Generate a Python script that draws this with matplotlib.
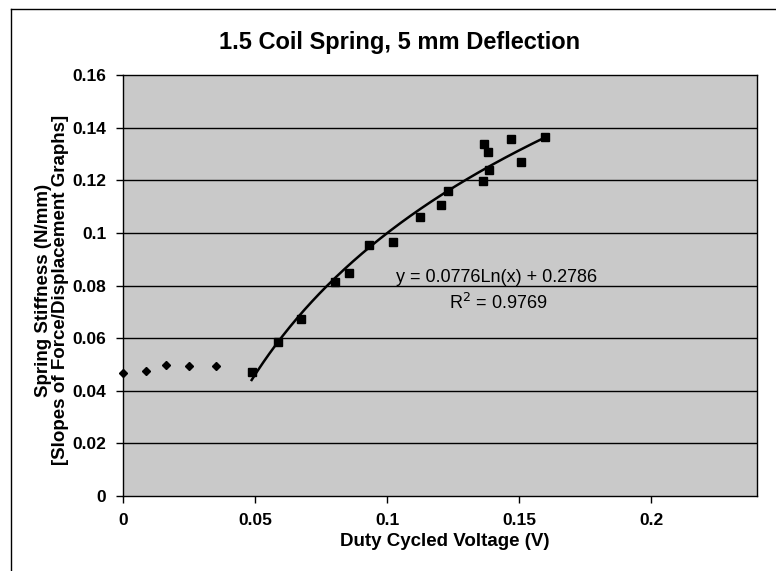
import matplotlib
matplotlib.use("Agg")
import matplotlib.pyplot as plt
import numpy as np
from matplotlib.lines import Line2D

plt.rcParams['font.family'] = ['Liberation Sans', 'DejaVu Sans']

# Data
diamond_x = [0.0, 0.0087, 0.0163, 0.0251, 0.0352]
diamond_y = [0.0467, 0.0475, 0.0498, 0.0494, 0.0494]

square_x = [0.0487, 0.0587, 0.0675, 0.0801, 0.0855, 0.0931, 0.1021, 0.1126,
            0.1205, 0.1229, 0.1362, 0.1384, 0.1365, 0.1380, 0.1467, 0.1507, 0.1597]
square_y = [0.0472, 0.0586, 0.0672, 0.0813, 0.0849, 0.0954, 0.0964, 0.1062,
            0.1105, 0.1159, 0.1197, 0.1239, 0.1338, 0.1309, 0.1357, 0.1268, 0.1366]

fit_a = 0.0776
fit_b = 0.2786
fit_label = "y = 0.0776Ln(x) + 0.2786"
r2_label = "R$^2$ = 0.9769"

x_ticks = [0, 0.05, 0.1, 0.15, 0.2]
x_tick_labels = ["0", "0.05", "0.1", "0.15", "0.2"]
y_ticks = [0, 0.02, 0.04, 0.06, 0.08, 0.1, 0.12, 0.14, 0.16]
y_tick_labels = ["0", "0.02", "0.04", "0.06", "0.08", "0.1", "0.12", "0.14", "0.16"]

W, H = 776, 571
fig = plt.figure(figsize=(W / 100, H / 100), dpi=100)
fig.patch.set_facecolor("white")

ax = fig.add_axes([123 / W, 1 - 496 / H, 634 / W, 421 / H])
ax.set_facecolor("#c9c9c9")
ax.set_xlim(0, 0.24)
ax.set_ylim(0, 0.16)

for yt in y_ticks[1:-1]:
    ax.axhline(yt, color="black", lw=1.0, zorder=1)

fx = np.linspace(min(square_x), max(square_x), 200)
ax.plot(fx, fit_a * np.log(fx) + fit_b, color="black", lw=1.8, zorder=3)

ax.plot(diamond_x, diamond_y, linestyle="none", marker="D", markersize=4.5,
        color="black", clip_on=False, zorder=4)
ax.plot(square_x, square_y, linestyle="none", marker="s", markersize=6,
        color="black", zorder=4)

ax.text(497 / W, 1 - 278 / H, fit_label, transform=fig.transFigure,
        ha="center", va="center", fontsize=13, zorder=5)
ax.text(498 / W, 1 - 303 / H, r2_label, transform=fig.transFigure,
        ha="center", va="center", fontsize=13, zorder=5)

ax.set_xticks(x_ticks)
ax.set_xticklabels(x_tick_labels, fontsize=12.5, fontweight="bold")
ax.set_yticks(y_ticks)
ax.set_yticklabels(y_tick_labels, fontsize=12.5, fontweight="bold")
ax.tick_params(direction="out", length=5, width=1, pad=7)
for s in ax.spines.values():
    s.set_color("black")
    s.set_linewidth(1.0)

fig.text(400 / W, 1 - 43 / H, "1.5 Coil Spring, 5 mm Deflection",
         ha="center", va="center", fontsize=17, fontweight="bold")
fig.text(445 / W, 1 - 541 / H, "Duty Cycled Voltage (V)",
         ha="center", va="center", fontsize=13.5, fontweight="bold")
fig.text(52 / W, 1 - 290 / H,
         "Spring Stiffness (N/mm)\n[Slopes of Force/Displacement Graphs]",
         ha="center", va="center", rotation=90, fontsize=13.5,
         fontweight="bold", linespacing=1.05)

# chart area border (top and left visible)
fig.add_artist(Line2D([11 / W, 1.0], [1 - 9 / H, 1 - 9 / H],
                      transform=fig.transFigure, color="black", lw=1.0))
fig.add_artist(Line2D([11 / W, 11 / W], [0.0, 1 - 9 / H],
                      transform=fig.transFigure, color="black", lw=1.0))

fig.savefig("out.png", dpi=100)
